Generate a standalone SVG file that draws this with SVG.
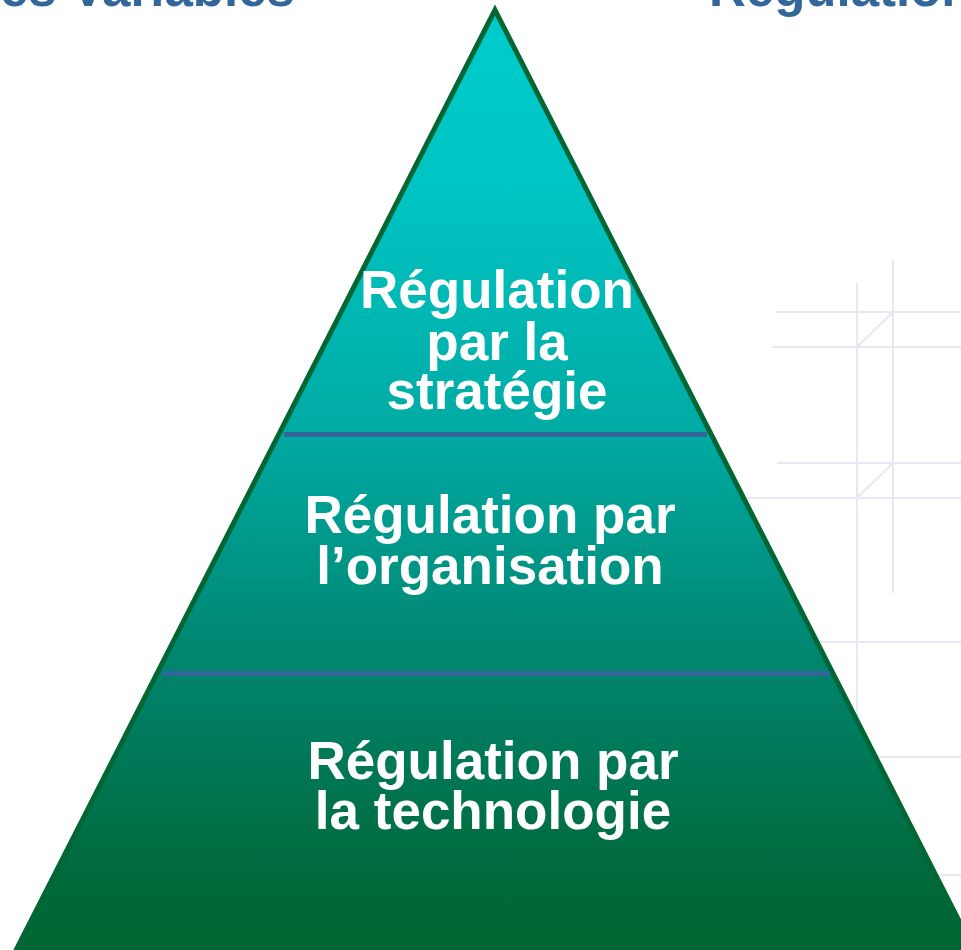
<svg xmlns="http://www.w3.org/2000/svg" width="961" height="950" viewBox="0 0 961 950">
  <defs>
    <linearGradient id="pyr" gradientUnits="userSpaceOnUse" x1="0" y1="8" x2="0" y2="950">
      <stop offset="0" stop-color="#00CCCC"/>
      <stop offset="0.2" stop-color="#00C4C3"/>
      <stop offset="0.453" stop-color="#00AAA3"/>
      <stop offset="0.706" stop-color="#00836C"/>
      <stop offset="0.915" stop-color="#006A3C"/>
      <stop offset="1" stop-color="#006633"/>
    </linearGradient>
    <style>
      .grid { stroke: #E6E8F4; stroke-width: 2; fill: none; }
      .title { font-family: "Liberation Sans", Arial, sans-serif; font-weight: bold; font-size: 51px; fill: #336699; }
      .lbl { font-family: "Liberation Sans", Arial, sans-serif; font-weight: bold; font-size: 53px; fill: #FFFFFF; text-anchor: middle; }
      .sep { stroke: #336699; stroke-width: 5; }
    </style>
  </defs>
  <rect width="961" height="950" fill="#FFFFFF"/>

  <g id="grid">
    <line class="grid" x1="857" y1="283" x2="857" y2="950"/>
    <line class="grid" x1="893" y1="260" x2="893" y2="593"/>
    <line class="grid" x1="777" y1="312" x2="961" y2="312"/>
    <line class="grid" x1="772" y1="347" x2="961" y2="347"/>
    <line class="grid" x1="777" y1="463" x2="961" y2="463"/>
    <line class="grid" x1="700" y1="498" x2="961" y2="498"/>
    <line class="grid" x1="857" y1="347" x2="893" y2="312"/>
    <line class="grid" x1="857" y1="498" x2="893" y2="463"/>
    <line class="grid" x1="780" y1="642" x2="961" y2="642"/>
    <line class="grid" x1="840" y1="757" x2="961" y2="757"/>
    <line class="grid" x1="900" y1="875" x2="961" y2="875"/>
  </g>

  <g id="titles">
    <text class="title" x="0" y="6">es Variables</text>
    <text class="title" x="709" y="6">Régulation</text>
  </g>

  <g id="pyramid">
    <polygon points="495,10 11,960 979,960" fill="url(#pyr)" stroke="#006633" stroke-width="5" stroke-linejoin="miter"/>
  </g>

  <g id="connectors">
    <line class="sep" x1="284" y1="434.5" x2="707" y2="434.5"/>
    <line class="sep" x1="162" y1="673.5" x2="830" y2="673.5"/>
  </g>

  <g id="node-strategie">
    <text class="lbl" x="497" y="308">Régulation</text>
    <text class="lbl" x="497" y="360">par la</text>
    <text class="lbl" x="497" y="409">stratégie</text>
  </g>

  <g id="node-organisation">
    <text class="lbl" x="490" y="533">Régulation par</text>
    <text class="lbl" x="490" y="584">l’organisation</text>
  </g>

  <g id="node-technologie">
    <text class="lbl" x="493" y="779">Régulation par</text>
    <text class="lbl" x="493" y="829">la technologie</text>
  </g>
</svg>
